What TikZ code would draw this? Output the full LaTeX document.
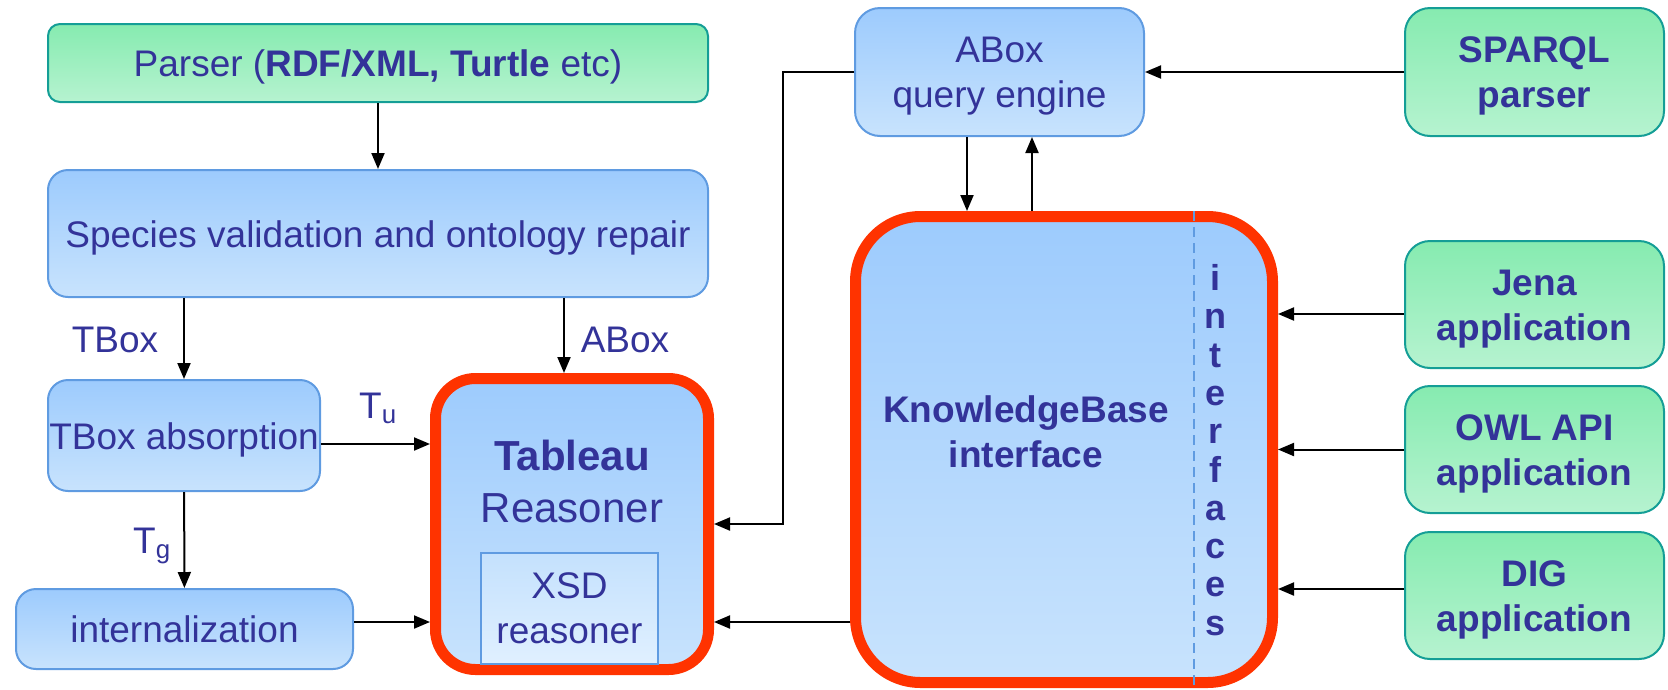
\documentclass[tikz,border=0pt]{standalone}
\usepackage{fontspec}
\setmainfont{Liberation Sans}
\usetikzlibrary{arrows.meta}

\definecolor{ink}{RGB}{51,51,153}
\definecolor{blueline}{RGB}{95,155,225}
\definecolor{bluetop}{RGB}{157,203,253}
\definecolor{bluebot}{RGB}{200,227,253}
\definecolor{greenline}{RGB}{20,158,150}
\definecolor{greentop}{RGB}{134,235,176}
\definecolor{greenbot}{RGB}{182,243,208}
\definecolor{redframe}{RGB}{255,51,0}

% taller first line, pushes two-line labels down a little
\newcommand{\lift}{\rule{0pt}{34pt}}

\begin{document}
\begin{tikzpicture}[x=1pt,y=-1pt,
  txt/.style={text=ink,font=\fontsize{37}{45}\selectfont,align=center,inner sep=0pt},
  oneline/.style={text height=27pt,text depth=0pt},
  bluebox/.style={txt,draw=blueline,line width=2pt,rounded corners=20pt,top color=bluetop,bottom color=bluebot},
  greenbox/.style={txt,draw=greenline,line width=2pt,rounded corners=25pt,top color=greentop,bottom color=greenbot},
  appbox/.style={greenbox,font=\fontsize{37}{45}\selectfont\bfseries},
  frame/.style={draw=redframe,line width=11pt,top color=bluetop,bottom color=bluebot,inner sep=0pt},
  arr/.style={-{Triangle[length=16pt,width=13pt]},line width=2pt}]
\useasboundingbox (0,0) rectangle (1668,689);

% left column
\node[greenbox,oneline,rounded corners=12pt,minimum width=660pt,minimum height=78pt] (parser) at (378,63) {Parser (\textbf{RDF/XML, Turtle} etc)};
\node[bluebox,oneline,minimum width=660pt,minimum height=127pt] (species) at (378,233.5) {Species validation and ontology repair};
\node[bluebox,oneline,minimum width=272pt,minimum height=111pt] (tbox) at (184,435.5) {TBox absorption};
\node[bluebox,oneline,minimum width=337pt,minimum height=80pt] (intern) at (184.5,629) {internalization};

% reasoner
\node[frame,rounded corners=40pt,minimum width=273pt,minimum height=291pt] (tableau) at (572,524) {};
\node[txt,font=\fontsize{42}{52}\selectfont] (tabname) at (572,481) {\textbf{Tableau}\\Reasoner};
\node[txt,draw=blueline,line width=2pt,top color={rgb,255:red,196;green,225;blue,253},bottom color={rgb,255:red,224;green,240;blue,255},minimum width=177pt,minimum height=111pt] (xsd) at (569.5,608.5) {XSD\\reasoner};

% query engine and knowledge base
\node[bluebox,rounded corners=25pt,minimum width=289pt,minimum height=128pt] (abox) at (999.5,72) {\lift ABox\\query engine};
\node[frame,rounded corners=65pt,minimum width=417pt,minimum height=466pt] (kb) at (1064,449.5) {};
\node[txt,font=\fontsize{37}{45}\selectfont\bfseries] (kbname) at (1026,432) {KnowledgeBase\\interface};
\draw[blueline,line width=1.5pt,dash pattern=on 10pt off 6pt] ([xshift=130pt]kb.north) -- ([xshift=130pt]kb.south);
\node[txt,font=\fontsize{36}{38.3}\selectfont\bfseries] (ifaces) at (1215,450) {i\\n\\t\\e\\r\\f\\a\\c\\e\\s};

% applications
\node[appbox,minimum width=259pt,minimum height=128pt] (sparql) at (1534.5,72) {\lift SPARQL\\parser};
\node[appbox,minimum width=259pt,minimum height=127pt] (jena) at (1534.5,304.5) {\lift Jena\\application};
\node[appbox,minimum width=259pt,minimum height=127pt] (owl) at (1534.5,449.5) {\lift OWL API\\application};
\node[appbox,minimum width=259pt,minimum height=127pt] (dig) at (1534.5,595.5) {\lift DIG\\application};

% edge labels
\node[txt] (tlabel) at (115,340) {TBox};
\node[txt] (alabel) at (625,340) {ABox};
\node[txt,anchor=base west] (tu) at (359,418) {T\textsubscript{u}};
\node[txt,anchor=base west] (tg) at (133,553) {T\textsubscript{g}};

% arrows
\draw[arr] (parser) -- (species);
\draw[arr] (species.south -| tbox.north) -- (tbox);
\draw[arr] ([xshift=-8pt]tableau.north |- species.south) -- ([xshift=-8pt]tableau.north);
\draw[arr] ([yshift=-8.5pt]tbox.east) -- ([yshift=-8.5pt]tbox.east -| tableau.west);
\draw[arr] (tbox) -- (intern);
\draw[arr] ([yshift=7pt]intern.east) -- ([yshift=7pt]intern.east -| tableau.west);
\draw[arr] ([yshift=7pt]intern.east -| kb.west) -- ([yshift=7pt]intern.east -| tableau.east);
\draw[arr] (abox.west) -- ++(-71,0) |- (tableau.east);
\draw[arr] (sparql) -- (abox);
\draw[arr] ([xshift=-32.5pt]abox.south) -- ([xshift=-32.5pt]abox.south |- kb.north);
\draw[arr] ([xshift=32.5pt]abox.south |- kb.north) -- ([xshift=32.5pt]abox.south);
\draw[arr] ([yshift=-9.5pt]jena.west) -- ([yshift=-9.5pt]jena.west -| kb.east);
\draw[arr] (owl.west) -- (owl.west -| kb.east);
\draw[arr] ([yshift=6.5pt]dig.west) -- ([yshift=6.5pt]dig.west -| kb.east);
\end{tikzpicture}
\end{document}
